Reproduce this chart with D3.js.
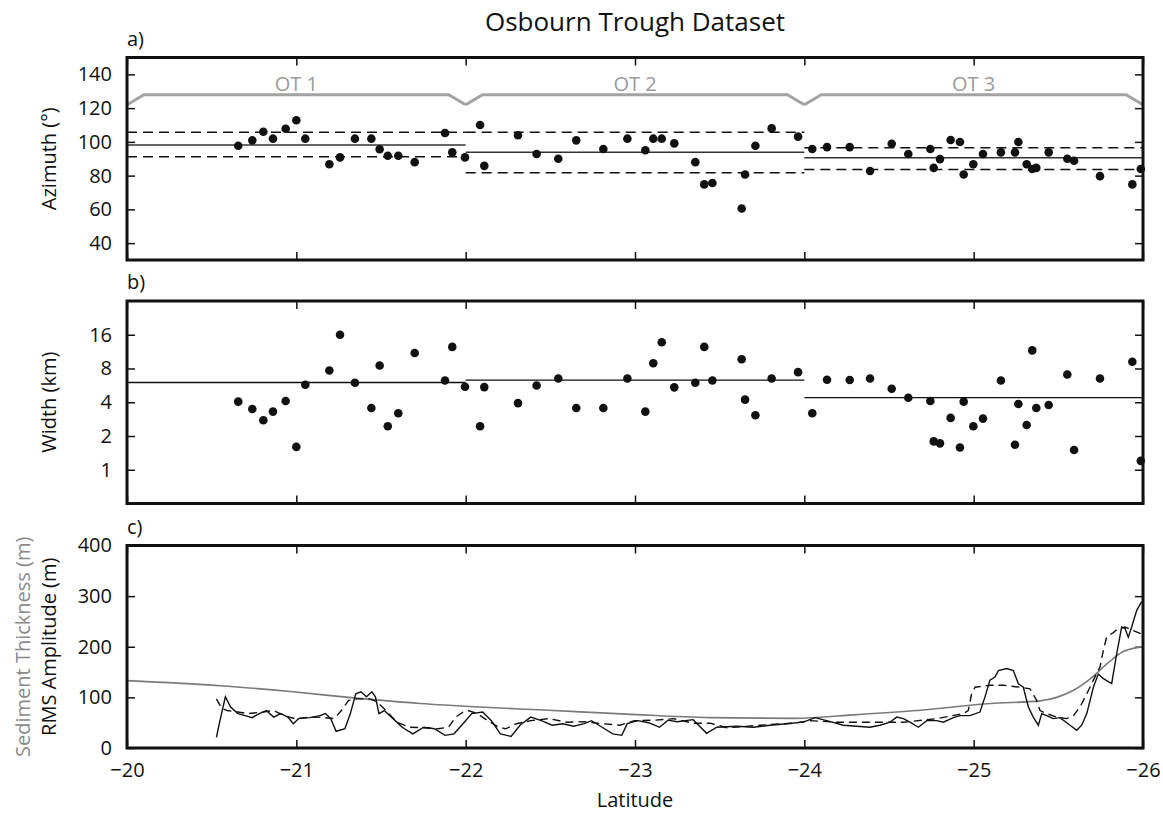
<!DOCTYPE html>
<html>
<head>
<meta charset="utf-8">
<script src="https://cdn.jsdelivr.net/npm/d3@7"></script>
<style>
  body { margin: 0; background: #fff; }
  svg text { font-family: "Open Sans", "DejaVu Sans", sans-serif; }
</style>
</head>
<body>
<svg id="chart" width="1163" height="816"></svg>
<script>
// ---- data ----
const latitude = [
  -20.657, -20.740, -20.805, -20.862, -20.937, -21.000, -21.053, -21.195, -21.258, -21.346, -21.443, -21.492, -21.540, -21.602, -21.699, -21.878, -21.921, -21.996,
  -22.085, -22.110, -22.309, -22.419, -22.547, -22.653, -22.813, -22.955, -23.061, -23.108, -23.158, -23.232, -23.356, -23.409, -23.457, -23.630, -23.650, -23.711, -23.807, -23.963, -24.047,
  -24.134, -24.268, -24.388, -24.516, -24.614, -24.744, -24.764, -24.801, -24.864, -24.919, -24.941, -24.998, -25.055, -25.161, -25.244, -25.264, -25.313, -25.346, -25.370, -25.443, -25.553, -25.593, -25.746, -25.937, -25.987
];
const azimuth = [
  97.7, 100.9, 106, 101.9, 107.8, 112.8, 101.9, 86.7, 90.8, 101.9, 101.9, 95.6, 91.8, 91.8, 88, 105.3, 93.8, 90.8,
  110, 85.8, 103.9, 92.8, 90, 100.9, 95.8, 101.9, 95, 101.9, 101.9, 99.1, 88, 74.8, 75.6, 60.5, 80.7, 97.7, 108, 103.1, 95.8,
  96.9, 96.9, 82.7, 98.9, 92.8, 95.8, 84.6, 89.8, 101.1, 99.9, 80.7, 86.7, 92.8, 93.8, 93.8, 99.9, 86.7, 83.9, 84.6, 93.8, 90, 88.8, 79.7, 74.8, 83.9
];
const widthKm = [
  4.05, 3.48, 2.76, 3.30, 4.10, 1.60, 5.73, 7.68, 16, 5.97, 3.55, 8.51, 2.44, 3.19, 11.0, 6.26, 12.47, 5.50,
  2.44, 5.46, 3.93, 5.65, 6.52, 3.55, 3.55, 6.52, 3.30, 8.92, 13.7, 5.43, 5.97, 12.47, 6.26, 9.68, 4.22, 3.06, 6.52, 7.42, 3.19,
  6.35, 6.32, 6.52, 5.28, 4.39, 4.10, 1.79, 1.72, 2.90, 1.58, 4.05, 2.44, 2.86, 6.26, 1.67, 3.86, 2.51, 11.6, 3.55, 3.78, 7.08, 1.50, 6.52, 9.18, 1.20
];

const sectionNames = ["OT 1", "OT 2", "OT 3"];
const sectionStart = [-20, -22, -24];
const sectionEnd = [-22, -24, -26];
const azMean = [98.1, 93.8, 90.6];
const azUpper = [105.7, 105.7, 96.5];
const azLower = [91.2, 81.7, 83.7];
const widthMean = [6.0, 6.3, 4.4];

const rmsSolidLat = [
  -20.528, -20.549, -20.581, -20.612, -20.655, -20.697, -20.739, -20.781, -20.823, -20.866, -20.908, -20.950, -20.982, -21.013, -21.077, -21.140, -21.172, -21.203, -21.235, -21.287,
  -21.319, -21.351, -21.382, -21.414, -21.446, -21.467, -21.488, -21.519, -21.562, -21.625, -21.688, -21.752, -21.815, -21.878, -21.931, -21.984, -22.036, -22.100, -22.152, -22.205,
  -22.268, -22.321, -22.384, -22.447, -22.511, -22.574, -22.637, -22.700, -22.743, -22.806, -22.869, -22.922, -22.954, -23.017, -23.080, -23.144, -23.196, -23.249, -23.343, -23.423,
  -23.483, -23.601, -23.699, -23.797, -23.896, -23.994, -24.063, -24.132, -24.230, -24.309, -24.388, -24.447, -24.506, -24.545, -24.585, -24.624, -24.673, -24.723, -24.782, -24.821,
  -24.880, -24.919, -24.978, -25.037, -25.067, -25.096, -25.126, -25.146, -25.195, -25.234, -25.264, -25.293, -25.323, -25.352, -25.382, -25.402, -25.431, -25.470, -25.510, -25.569,
  -25.609, -25.638, -25.668, -25.707, -25.736, -25.766, -25.815, -25.845, -25.874, -25.894, -25.913, -25.933, -25.963, -25.992
];
const rmsSolid = [
  21, 54, 101, 81, 68, 64, 60, 68, 74, 61, 68, 61, 48, 58, 60, 64, 68, 58, 33, 38,
  68, 107, 111, 101, 111, 101, 68, 74, 61, 41, 28, 41, 38, 25, 28, 48, 68, 71, 54, 28,
  23, 45, 61, 54, 45, 48, 43, 48, 54, 41, 28, 25, 48, 54, 50, 41, 55, 52, 56, 29,
  41, 43, 41, 45, 48, 51, 60, 54, 45, 43, 41, 45, 51, 61, 58, 51, 41, 54, 54, 51,
  60, 64, 64, 71, 101, 134, 140, 153, 157, 153, 127, 120, 81, 61, 45, 68, 64, 58, 60, 45,
  35, 45, 68, 120, 146, 137, 127, 187, 239, 236, 219, 239, 272, 289
];

const rmsDashLat = [
  -20.528, -20.560, -20.591, -20.655, -20.718, -20.803, -20.866, -20.929, -20.992, -21.055, -21.140, -21.224, -21.266, -21.309, -21.361, -21.435, -21.477, -21.530, -21.593, -21.667,
  -21.752, -21.836, -21.899, -21.941, -21.984, -22.015, -22.068, -22.131, -22.195, -22.236, -22.300, -22.384, -22.490, -22.595, -22.701, -22.806, -22.911, -22.996, -23.122, -23.228,
  -23.344, -23.443, -23.542, -23.738, -23.935, -24.034, -24.191, -24.388, -24.585, -24.782, -24.939, -24.968, -24.988, -25.008, -25.057, -25.097, -25.175, -25.274, -25.333, -25.372,
  -25.392, -25.431, -25.490, -25.549, -25.589, -25.628, -25.668, -25.707, -25.746, -25.766, -25.786, -25.825, -25.854, -25.894, -25.933, -25.992
];
const rmsDash = [
  97, 78, 74, 71, 68, 71, 74, 64, 58, 60, 61, 58, 74, 94, 97, 97, 91, 74, 51, 41,
  40, 38, 41, 61, 71, 74, 68, 54, 41, 38, 48, 54, 58, 51, 52, 48, 45, 54, 55, 58,
  49, 49, 40, 45, 49, 54, 51, 51, 51, 58, 68, 74, 107, 120, 122, 124, 124, 120, 117, 94,
  74, 68, 61, 58, 64, 81, 107, 134, 160, 193, 220, 228, 236, 239, 233, 225
];

const sedimentLat = [-20.0, -20.55, -20.98, -21.34, -21.73, -22.08, -22.46, -22.95, -23.44, -23.94, -24.31, -24.70, -25.10, -25.39, -25.49, -25.59, -25.69, -25.79, -25.88, -25.98, -26.0];
const sediment = [133, 123, 111, 99, 88, 81, 75, 67, 60, 58.5, 66, 75, 88, 93, 100, 114, 137, 167, 190, 199, 200];

const latTicks = [-20, -21, -22, -23, -24, -25, -26];
const azTicks = [40, 60, 80, 100, 120, 140];
const widthTicks = [1, 2, 4, 8, 16];
const rmsTicks = [0, 100, 200, 300, 400];

// ---- layout ----
const L = 127, R = 1143, H = 202.5;
const topA = 57.5, topB = 301, topC = 545.5;
const ink = "#111";

const svg = d3.select("#chart");
const x = d3.scaleLinear().domain([-20, -26]).range([L, R]);
const yA = d3.scaleLinear().domain([30, 150]).range([topA + H, topA]);
const yB = d3.scaleLog().base(2).domain([0.5, 32]).range([topB + H, topB]);
const yC = d3.scaleLinear().domain([0, 400]).range([topC + H, topC]);

function frame(top, y, ticks, label, showX) {
  const g = svg.append("g");
  g.append("g").attr("transform", `translate(${L},0)`)
    .call(d3.axisLeft(y).tickValues(ticks).tickFormat(d3.format("d")).tickSize(-8).tickPadding(15));
  g.append("g").attr("transform", `translate(${R},0)`)
    .call(d3.axisRight(y).tickValues(ticks).tickFormat("").tickSize(-8));
  g.append("g").attr("transform", `translate(0,${top})`)
    .call(d3.axisTop(x).tickValues(latTicks).tickFormat("").tickSize(-8));
  g.append("g").attr("transform", `translate(0,${top + H})`)
    .call(d3.axisBottom(x).tickValues(latTicks).tickFormat(showX ? d3.format("d") : "").tickSize(-8).tickPadding(15));
  g.selectAll(".domain").remove();
  g.selectAll(".tick line").attr("stroke", ink).attr("stroke-width", 1.5);
  g.selectAll(".tick text").attr("font-size", 20).attr("fill", ink)
    .attr("font-family", '"Open Sans", sans-serif');
  svg.append("text").attr("x", L).attr("y", top - 12).attr("font-size", 20).attr("fill", ink).text(label);
  return g;
}

function border(top) {
  svg.append("rect").attr("x", L).attr("y", top).attr("width", R - L).attr("height", H)
    .attr("fill", "none").attr("stroke", ink).attr("stroke-width", 3);
}

// title
svg.append("text").attr("x", 635).attr("y", 31).attr("text-anchor", "middle")
  .attr("font-size", 26).attr("fill", ink).text("Osbourn Trough Dataset");

// ---- panel a ----
frame(topA, yA, azTicks, "a)", false);
const secs = d3.range(sectionNames.length);
const gA = svg.append("g");
gA.selectAll(".mean").data(secs).join("line")
  .attr("x1", i => x(sectionStart[i])).attr("x2", i => x(sectionEnd[i]))
  .attr("y1", i => yA(azMean[i])).attr("y2", i => yA(azMean[i]))
  .attr("stroke", "#333").attr("stroke-width", 1.5);
[azUpper, azLower].forEach(arr => {
  gA.append("g").selectAll("line").data(secs).join("line")
    .attr("x1", i => x(sectionStart[i])).attr("x2", i => x(sectionEnd[i]))
    .attr("y1", i => yA(arr[i])).attr("y2", i => yA(arr[i]))
    .attr("stroke", ink).attr("stroke-width", 1.5).attr("stroke-dasharray", "10,6");
});
// section brackets
const bracket = d3.line().x(d => x(d[0])).y(d => yA(d[1]));
secs.forEach(i => {
  const a = sectionStart[i], b = sectionEnd[i];
  gA.append("path")
    .attr("d", bracket([[a, 122], [a - 0.1, 128], [b + 0.1, 128], [b, 122]]))
    .attr("fill", "none").attr("stroke", "#a3a3a3").attr("stroke-width", 3);
  gA.append("text").attr("x", x((a + b) / 2)).attr("y", yA(128) - 4)
    .attr("text-anchor", "middle").attr("font-size", 20).attr("fill", "#9a9a9a")
    .text(sectionNames[i]);
});
gA.selectAll("circle").data(latitude).join("circle")
  .attr("cx", d => x(d)).attr("cy", (d, i) => yA(azimuth[i])).attr("r", 4.3).attr("fill", ink);
border(topA);
svg.append("text").attr("transform", `translate(56,${topA + H / 2}) rotate(-90)`)
  .attr("text-anchor", "middle").attr("font-size", 20).attr("fill", ink).text("Azimuth (°)");

// ---- panel b ----
frame(topB, yB, widthTicks, "b)", false);
const gB = svg.append("g");
gB.selectAll("line").data(secs).join("line")
  .attr("x1", i => x(sectionStart[i])).attr("x2", i => x(sectionEnd[i]))
  .attr("y1", i => yB(widthMean[i])).attr("y2", i => yB(widthMean[i]))
  .attr("stroke", ink).attr("stroke-width", 1.4);
gB.selectAll("circle").data(latitude).join("circle")
  .attr("cx", d => x(d)).attr("cy", (d, i) => yB(widthKm[i])).attr("r", 4.3).attr("fill", ink);
border(topB);
svg.append("text").attr("transform", `translate(56,${topB + H / 2}) rotate(-90)`)
  .attr("text-anchor", "middle").attr("font-size", 20).attr("fill", ink).text("Width (km)");

// ---- panel c ----
frame(topC, yC, rmsTicks, "c)", true);
const gC = svg.append("g");
gC.append("path")
  .attr("d", d3.line().curve(d3.curveMonotoneX).x(d => x(d)).y((d, i) => yC(sediment[i]))(sedimentLat))
  .attr("fill", "none").attr("stroke", "#7a7a7a").attr("stroke-width", 1.6);
gC.append("path")
  .attr("d", d3.line().x(d => x(d)).y((d, i) => yC(rmsDash[i]))(rmsDashLat))
  .attr("fill", "none").attr("stroke", ink).attr("stroke-width", 1.4).attr("stroke-dasharray", "8,5");
gC.append("path")
  .attr("d", d3.line().x(d => x(d)).y((d, i) => yC(rmsSolid[i]))(rmsSolidLat))
  .attr("fill", "none").attr("stroke", ink).attr("stroke-width", 1.4);
border(topC);
svg.append("text").attr("transform", `translate(56,${topC + H / 2}) rotate(-90)`)
  .attr("text-anchor", "middle").attr("font-size", 20).attr("fill", ink).text("RMS Amplitude (m)");
svg.append("text").attr("transform", `translate(30,${topC + H / 2}) rotate(-90)`)
  .attr("text-anchor", "middle").attr("font-size", 20).attr("fill", "#8a8a8a").text("Sediment Thickness (m)");

svg.append("text").attr("x", 635).attr("y", 807).attr("text-anchor", "middle")
  .attr("font-size", 20).attr("fill", ink).text("Latitude");
</script>
</body>
</html>
